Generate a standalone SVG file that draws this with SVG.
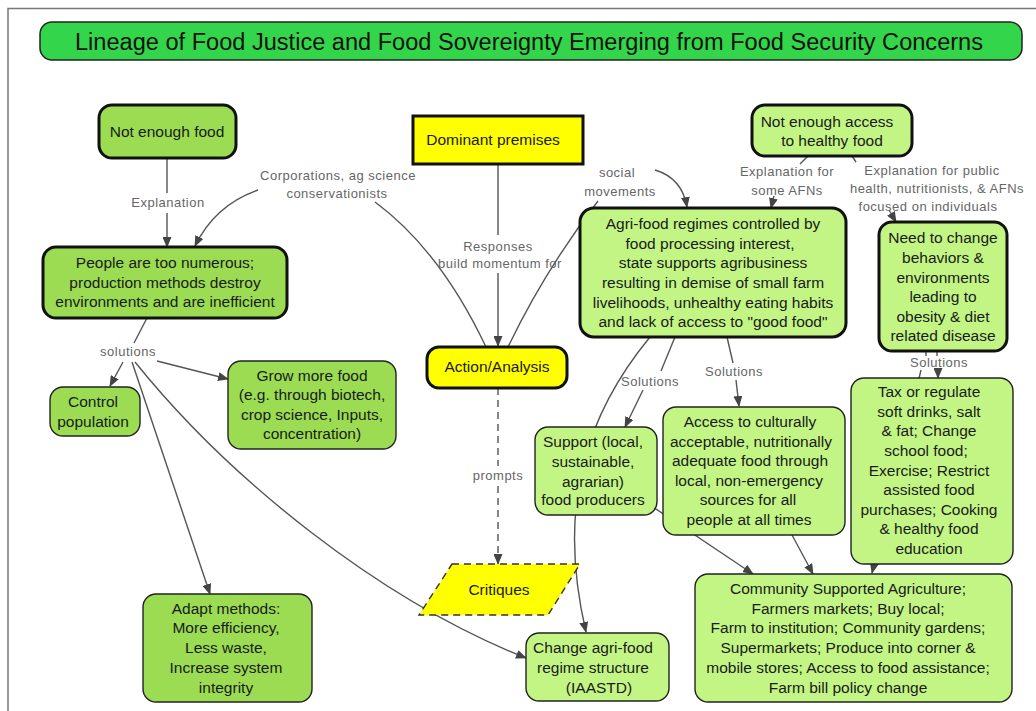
<svg xmlns="http://www.w3.org/2000/svg" width="1036" height="711" viewBox="0 0 1036 711">
<style>
.frame{fill:none;stroke:#777;stroke-width:1.5}
.n text,.t{font-family:"Liberation Sans",Arial,sans-serif;font-size:15.5px;fill:#1a1a1a;text-anchor:middle}
.dk{fill:#9bdc52}
.lt{fill:#c3f584}
.yl{fill:#ffff00}
.thick{stroke:#111;stroke-width:3}
.thin{stroke:#222;stroke-width:1.4}
.c path{fill:none;stroke:#555;stroke-width:1.4}
.c .a{marker-end:url(#arr)}
.c .d{stroke-dasharray:7 5}
.lb{font-family:"Liberation Sans",Arial,sans-serif;font-size:13px;letter-spacing:0.5px;fill:#666;text-anchor:middle}
</style>
<defs>
<marker id="arr" markerUnits="userSpaceOnUse" markerWidth="11" markerHeight="9" refX="10" refY="4.5" orient="auto">
<path d="M0,0 L11,4.5 L0,9 z" fill="#444"/>
</marker>
</defs>
<rect width="1036" height="711" fill="#fff"/>
<path class="frame" d="M8,711 L8,8.5 L1036,8.5"/>

<g id="title">
<rect x="40" y="22" width="982" height="38" rx="12" fill="#33d64a" stroke="#222" stroke-width="1.5"/>
<text x="529" y="50" textLength="908" lengthAdjust="spacingAndGlyphs" style="font-family:'Liberation Sans',Arial,sans-serif;font-size:23px;fill:#111;text-anchor:middle">Lineage of Food Justice and Food Sovereignty Emerging from Food Security Concerns</text>
</g>

<g id="connectors" class="c">
<path d="M167,158 L167,193"/>
<path class="a" d="M167,213 L167,247"/>
<path class="a" d="M258,190 Q215,205 195,246"/>
<path d="M486,347 Q440,250 375,202"/>
<path d="M498,164 L498,235"/>
<path class="a" d="M498,273 L498,346"/>
<path d="M508,347 Q545,270 598,201"/>
<path class="a" d="M655,170 Q682,178 687,207"/>
<path d="M808,156 L800,164"/>
<path class="a" d="M774,196 L771,208"/>
<path d="M852,156 L856,162"/>
<path class="a" d="M889,210 L896,222"/>
<path d="M926,351 L926,356"/>
<path d="M937,351 L937,356"/>
<path class="a" d="M938,370 L938,378"/>
<path class="a" d="M921,370 L872,573"/>
<path d="M147,318 L134,343"/>
<path class="a" d="M123,362 L110,386"/>
<path class="a" d="M157,361 L228,379"/>
<path class="a" d="M132,362 L210,594"/>
<path class="a" d="M135,362 C230,480 380,600 526,658"/>
<path d="M675,337 L661,371"/>
<path class="a" d="M643,390 L625,427"/>
<path class="a" d="M650,337 C590,410 555,500 586,632"/>
<path d="M727,337 L733,363"/>
<path class="a" d="M736,380 L739,406"/>
<path class="a" d="M650,505 L753,574"/>
<path class="a" d="M792,535 L813,574"/>
<path class="d" d="M498,388 L498,466"/>
<path class="a d" d="M498,486 L498,564"/>
</g>

<g id="labels">
<text class="lb" x="168" y="207">Explanation</text>
<text class="lb" x="338" y="180">Corporations, ag science</text>
<text class="lb" x="337" y="198">conservationists</text>
<text class="lb" x="498" y="251">Responses</text>
<text class="lb" x="500" y="268">build momentum for</text>
<text class="lb" x="617" y="177">social</text>
<text class="lb" x="620" y="196">movements</text>
<text class="lb" x="787" y="176">Explanation for</text>
<text class="lb" x="787" y="195">some AFNs</text>
<text class="lb" x="932" y="175">Explanation for public</text>
<text class="lb" x="937" y="193">health, nutritionists, &amp; AFNs</text>
<text class="lb" x="928" y="211">focused on individuals</text>
<text class="lb" x="939" y="367">Solutions</text>
<text class="lb" x="128" y="356">solutions</text>
<text class="lb" x="650" y="386">Solutions</text>
<text class="lb" x="734" y="376">Solutions</text>
<text class="lb" x="498" y="480">prompts</text>
</g>

<g id="not-enough-food" class="n">
<rect class="dk thick" x="99" y="105" width="137" height="53" rx="13"/>
<text x="167" y="137">Not enough food</text>
</g>

<g id="people" class="n">
<rect class="dk thick" x="43" y="247" width="244" height="71" rx="13"/>
<text x="165" y="268">People are too numerous;</text>
<text x="165" y="288">production methods destroy</text>
<text x="165" y="307">environments and are inefficient</text>
</g>

<g id="dominant" class="n">
<rect class="yl thick" x="413" y="116" width="170" height="48"/>
<text x="493" y="145">Dominant premises</text>
</g>

<g id="action" class="n">
<rect class="yl thick" x="427" y="347" width="140" height="41" rx="12"/>
<text x="497" y="372">Action/Analysis</text>
</g>

<g id="agri-food" class="n">
<rect class="lt thick" x="580" y="208" width="266" height="129" rx="14"/>
<text x="713" y="229">Agri-food regimes controlled by</text>
<text x="710" y="249">food processing interest,</text>
<text x="713" y="268">state supports agribusiness</text>
<text x="713" y="288">resulting in demise of small farm</text>
<text x="713" y="308">livelihoods, unhealthy eating habits</text>
<text x="713" y="327">and lack of access to "good food"</text>
</g>

<g id="not-enough-access" class="n">
<rect class="lt thick" x="752" y="105" width="160" height="51" rx="13"/>
<text x="827" y="127">Not enough access</text>
<text x="832" y="146">to healthy food</text>
</g>

<g id="need-change" class="n">
<rect class="lt thick" x="879" y="222" width="128" height="129" rx="13"/>
<text x="943" y="243">Need to change</text>
<text x="943" y="263">behaviors &amp;</text>
<text x="943" y="283">environments</text>
<text x="943" y="302">leading to</text>
<text x="943" y="322">obesity &amp; diet</text>
<text x="943" y="341">related disease</text>
</g>

<g id="control" class="n">
<rect class="dk thin" x="50" y="387" width="90" height="49" rx="13"/>
<text x="93" y="407">Control</text>
<text x="93" y="427">population</text>
</g>

<g id="grow" class="n">
<rect class="dk thin" x="228" y="361" width="168" height="88" rx="13"/>
<text x="312" y="381">Grow more food</text>
<text x="312" y="400">(e.g. through biotech,</text>
<text x="312" y="420">crop science, Inputs,</text>
<text x="312" y="439">concentration)</text>
</g>

<g id="adapt" class="n">
<rect class="dk thin" x="143" y="594" width="169" height="108" rx="13"/>
<text x="226" y="614">Adapt methods:</text>
<text x="226" y="633">More efficiency,</text>
<text x="226" y="653">Less waste,</text>
<text x="226" y="673">Increase system</text>
<text x="226" y="693">integrity</text>
</g>

<g id="critiques" class="n">
<polygon points="452,564 580,564 548,615 419,615" fill="#ffff00" stroke="#333" stroke-width="1.4" stroke-dasharray="7 5"/>
<text x="499" y="595">Critiques</text>
</g>

<g id="support" class="n">
<rect class="lt thin" x="535" y="427" width="122" height="88" rx="13"/>
<text x="593" y="447">Support (local,</text>
<text x="593" y="467">sustainable,</text>
<text x="593" y="487">agrarian)</text>
<text x="593" y="505">food producers</text>
</g>

<g id="access" class="n">
<rect class="lt thin" x="663" y="407" width="182" height="128" rx="13"/>
<text x="750" y="427">Access to culturally</text>
<text x="751" y="447">acceptable, nutritionally</text>
<text x="750" y="466">adequate food through</text>
<text x="749" y="486">local, non-emergency</text>
<text x="748" y="505">sources for all</text>
<text x="749" y="525">people at all times</text>
</g>

<g id="tax" class="n">
<rect class="lt thin" x="851" y="378" width="162" height="186" rx="13"/>
<text x="929" y="397">Tax or regulate</text>
<text x="929" y="417">soft drinks, salt</text>
<text x="929" y="436">&amp; fat; Change</text>
<text x="926" y="456">school food;</text>
<text x="929" y="476">Exercise; Restrict</text>
<text x="929" y="495">assisted food</text>
<text x="929" y="515">purchases; Cooking</text>
<text x="929" y="534">&amp; healthy food</text>
<text x="929" y="554">education</text>
</g>

<g id="community" class="n">
<rect class="lt thin" x="695" y="574" width="317" height="128" rx="13"/>
<text x="848" y="594">Community Supported Agriculture;</text>
<text x="848" y="614">Farmers markets; Buy local;</text>
<text x="848" y="633">Farm to institution; Community gardens;</text>
<text x="848" y="653">Supermarkets; Produce into corner &amp;</text>
<text x="848" y="673">mobile stores; Access to food assistance;</text>
<text x="848" y="693">Farm bill policy change</text>
</g>

<g id="change" class="n">
<rect class="lt thin" x="526" y="633" width="143" height="68" rx="13"/>
<text x="593" y="653">Change agri-food</text>
<text x="593" y="673">regime structure</text>
<text x="599" y="693">(IAASTD)</text>
</g>
</svg>
